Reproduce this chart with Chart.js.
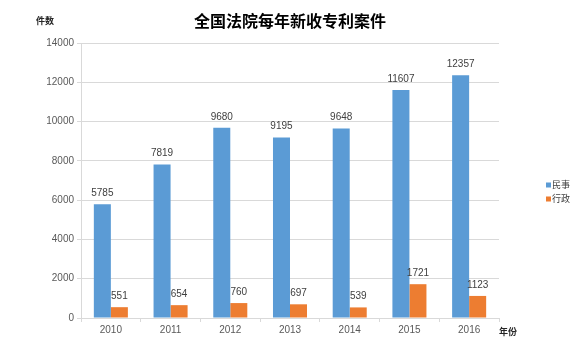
<!DOCTYPE html>
<html><head><meta charset="utf-8">
<script src="https://cdn.jsdelivr.net/npm/chart.js@4"></script>
<style>html,body{margin:0;padding:0;background:#fff}#wrap{width:588px;height:344px}</style>
</head><body><div id="wrap"><canvas id="c" width="588" height="344"></canvas></div>
<script>
const years = ['2010','2011','2012','2013','2014','2015','2016'];
const civil = [5785,7819,9680,9195,9648,11607,12357];
const admin = [551,654,760,697,539,1721,1123];
const seriesNames = ['民事','行政'];
const yTicks = [0,2000,4000,6000,8000,10000,12000,14000];
const title = '全国法院每年新收专利案件';
const yTitle = '件数';
const xTitle = '年份';

const colors = ['#5B9BD5','#ED7D31'];
const numFont = '"Liberation Sans Narrow", "Liberation Sans", Arial, sans-serif';
const cjkFont = '"Noto Sans CJK SC", sans-serif';

const extras = {
  id:'extras',
  afterDatasetsDraw(chart){
    const ctx = chart.ctx;
    ctx.save();
    ctx.font = '10px ' + numFont;
    ctx.fillStyle = '#404040';
    ctx.textAlign = 'center';
    ctx.textBaseline = 'middle';
    chart.data.datasets.forEach((ds,i)=>{
      const meta = chart.getDatasetMeta(i);
      meta.data.forEach((bar,j)=>{
        ctx.fillText(String(ds.data[j]), bar.x, bar.y - 11);
      });
    });
    ctx.fillStyle = '#000';
    ctx.font = 'bold 16px ' + cjkFont;
    ctx.fillText(title, 290, 21);
    ctx.font = 'bold 9px ' + cjkFont;
    ctx.fillStyle = '#262626';
    ctx.fillText(yTitle, 45, 21);
    ctx.fillText(xTitle, 508, 332);
    ctx.textAlign = 'left';
    ctx.font = '9px ' + cjkFont;
    seriesNames.forEach((n,i)=>{
      const y = 185 + i*14;
      ctx.fillStyle = colors[i];
      ctx.fillRect(546, y-2.5, 5, 5);
      ctx.fillStyle = '#404040';
      ctx.fillText(n, 552, y);
    });
    ctx.restore();
  }
};

new Chart(document.getElementById('c'), {
  type:'bar',
  data:{
    labels: years,
    datasets:[
      {label:seriesNames[0], data:civil, backgroundColor:colors[0], categoryPercentage:0.57, barPercentage:1},
      {label:seriesNames[1], data:admin, backgroundColor:colors[1], categoryPercentage:0.57, barPercentage:1}
    ]
  },
  options:{
    responsive:false,
    animation:false,
    layout:{padding:{left:0,right:89,top:43,bottom:0}},
    plugins:{legend:{display:false}, tooltip:{enabled:false}, title:{display:false}},
    scales:{
      x:{
        grid:{display:true, drawOnChartArea:false, drawTicks:true, tickLength:4, color:'#d9d9d9', offset:true},
        border:{display:true, color:'#d9d9d9'},
        ticks:{font:{size:10, family:numFont}, color:'#595959', padding:2},
        afterFit(s){ s.height = 26; }
      },
      y:{
        min:0, max:14000,
        afterBuildTicks(s){ s.ticks = yTicks.map(v=>({value:v})); },
        grid:{color:'#d9d9d9', tickLength:4},
        border:{display:true, color:'#d9d9d9'},
        ticks:{font:{size:10, family:numFont}, color:'#595959', padding:3, callback:(v)=>String(v)},
        afterFit(s){ s.width = 81; }
      }
    }
  },
  plugins:[extras]
});
</script>
</body></html>
